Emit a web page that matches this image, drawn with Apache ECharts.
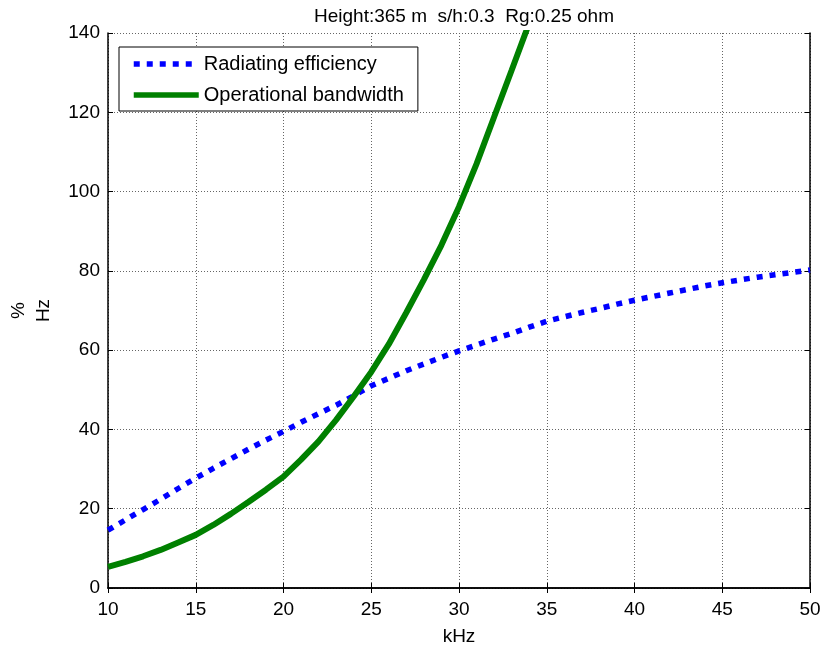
<!DOCTYPE html>
<html>
<head>
<meta charset="utf-8">
<script src="https://cdn.jsdelivr.net/npm/echarts@6/dist/echarts.min.js"></script>
<style>
  html, body { margin: 0; padding: 0; background: #fff; }
  #chart { width: 821px; height: 646px; }
</style>
</head>
<body>
<div id="chart"></div>
<script>
// frequency samples (kHz)
var effFreq = [10,11,12,13,14,15,16,17,18,19,20,21,22,23,24,25,26,27,28,29,30,
               31,32,33,34,35,36,37,38,39,40,41,42,43,44,45,46,47,48,49,50];
var effValues = [14.6,17.2,19.8,22.4,25.1,27.7,30.2,32.6,35.0,37.3,39.5,41.8,44.0,46.1,48.5,51.0,
                 52.9,54.8,56.5,58.2,59.8,61.3,62.8,64.2,65.8,67.3,68.4,69.5,70.5,71.6,72.6,
                 73.5,74.4,75.3,76.2,77.0,77.7,78.4,79.0,79.6,80.2];
var bwFreq = [10,11,12,13,14,15,16,17,18,19,20,21,22,23,24,25,26,27,28,29,30,31,32,33,34];
var bwValues = [5.3,6.6,8.0,9.6,11.5,13.4,15.9,18.7,21.7,24.8,28.1,32.4,37.0,42.4,48.3,54.5,
                61.5,69.5,77.8,86.5,96.2,107.0,118.8,130.6,142.5];
var xTicks = [10,15,20,25,30,35,40,45,50];
var yTicks = [0,20,40,60,80,100,120,140];

function pairs(xs, ys) {
    var out = [];
    for (var i = 0; i < xs.length; i++) out.push([xs[i], ys[i]]);
    return out;
}

var chart = echarts.init(document.getElementById('chart'));
var font = 'Liberation Sans';
var gridLine = { show: true, lineStyle: { color: '#666', type: [1, 2], width: 1 } };
var tick = { show: true, inside: true, length: 5, lineStyle: { color: '#000' } };

var option = {
    animation: false,
    backgroundColor: '#fff',
    textStyle: { fontFamily: font, color: '#000' },
    title: {
        text: 'Height:365 m  s/h:0.3  Rg:0.25 ohm',
        left: 459, top: 2, textAlign: 'center',
        textStyle: { fontFamily: font, fontSize: 19, fontWeight: 'normal', color: '#000' }
    },
    legend: {
        orient: 'vertical',
        left: 119, top: 47,
        backgroundColor: '#fff',
        borderColor: '#000', borderWidth: 1,
        padding: [7, 14, 6, 12],
        itemGap: 11,
        itemWidth: 65, itemHeight: 10,
        itemStyle: { opacity: 0 },
        lineStyle: { width: 5.5 },
        textStyle: { fontFamily: font, fontSize: 20, color: '#000' },
        data: ['Radiating efficiency', 'Operational bandwidth']
    },
    grid: { left: 108, right: 11, top: 33, bottom: 58, outerBoundsMode: 'none', containLabel: false },
    xAxis: [{
        type: 'value', min: xTicks[0], max: xTicks[xTicks.length - 1], interval: 5,
        name: 'kHz', nameLocation: 'middle', nameGap: 39,
        nameTextStyle: { fontFamily: font, fontSize: 19, color: '#000' },
        axisLine: { show: true, lineStyle: { color: '#000', width: 1.5 } },
        axisTick: tick,
        axisLabel: { fontFamily: font, fontSize: 19, color: '#000', margin: 12 },
        splitLine: gridLine
    }, {
        type: 'value', position: 'top', min: xTicks[0], max: xTicks[xTicks.length - 1], interval: 5,
        axisLine: { show: true, lineStyle: { color: '#000', width: 1.5 } },
        axisTick: tick, axisLabel: { show: false }, splitLine: { show: false }
    }],
    yAxis: [{
        type: 'value', min: yTicks[0], max: yTicks[yTicks.length - 1], interval: 20,
        name: '%\nHz', nameLocation: 'middle', nameRotate: 90, nameGap: 52,
        nameTextStyle: { fontFamily: font, fontSize: 19, color: '#000', lineHeight: 25 },
        axisLine: { show: true, lineStyle: { color: '#000', width: 1.5 } },
        axisTick: tick,
        axisLabel: { fontFamily: font, fontSize: 19, color: '#000', margin: 8 },
        splitLine: gridLine
    }, {
        type: 'value', position: 'right', min: yTicks[0], max: yTicks[yTicks.length - 1], interval: 20,
        axisLine: { show: true, lineStyle: { color: '#000', width: 1.5 } },
        axisTick: tick, axisLabel: { show: false }, splitLine: { show: false }
    }],
    series: [{
        name: 'Radiating efficiency',
        type: 'line',
        showSymbol: false, symbol: 'none',
        color: '#0000ff',
        lineStyle: { color: '#0000ff', width: 5.5, type: [6, 7], cap: 'butt' },
        data: pairs(effFreq, effValues)
    }, {
        name: 'Operational bandwidth',
        type: 'line',
        showSymbol: false, symbol: 'none',
        color: '#008000',
        clip: true,
        lineStyle: { color: '#008000', width: 6 },
        data: pairs(bwFreq, bwValues)
    }]
};

chart.setOption(option);
window.onresize = chart.resize;
</script>
</body>
</html>
